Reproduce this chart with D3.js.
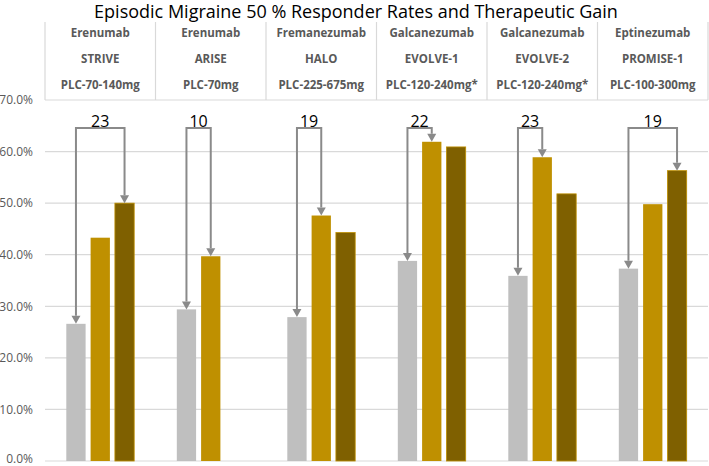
<!DOCTYPE html>
<html>
<head>
<meta charset="utf-8">
<script src="https://cdn.jsdelivr.net/npm/d3@7"></script>
<style>
  body { margin: 0; background: #fff; }
  text { font-family: "Open Sans", "Liberation Sans", sans-serif; }
</style>
</head>
<body>
<div id="chart"></div>
<script>
// data
var drugs = ["Erenumab", "Erenumab", "Fremanezumab", "Galcanezumab", "Galcanezumab", "Eptinezumab"];
var trials = ["STRIVE", "ARISE", "HALO", "EVOLVE-1", "EVOLVE-2", "PROMISE-1"];
var doses = ["PLC-70-140mg", "PLC-70mg", "PLC-225-675mg", "PLC-120-240mg*", "PLC-120-240mg*", "PLC-100-300mg"];
var placebo = [26.6, 29.4, 27.9, 38.8, 35.9, 37.3];
var lowDose = [43.3, 39.7, 47.6, 61.9, 58.9, 49.8];
var highDose = [50.0, null, 44.3, 60.9, 51.8, 56.3];
var gainLabels = ["23", "10", "19", "22", "23", "19"];
var gainTarget = [2, 1, 1, 1, 1, 2]; // which bar the arrow points to
var yTicks = [0, 10, 20, 30, 40, 50, 60, 70];

var seriesKeys = ["placebo", "low", "high"];
var colors = { placebo: "#bfbfbf", low: "#bf9000", high: "#7f6000" };

var data = trials.map(function (t, i) {
  return { i: i, values: [placebo[i], lowDose[i], highDose[i]] };
});

var width = 709, height = 466;
var margin = { left: 45, right: 708, top: 100, bottom: 461 };

var svg = d3.select("#chart").append("svg")
  .attr("width", width)
  .attr("height", height);

var x0 = d3.scaleBand().domain(d3.range(trials.length)).range([margin.left, margin.right]).padding(0);
var x1 = d3.scaleBand().domain([0, 1, 2]).range([0, x0.bandwidth()])
  .paddingInner(0.206).paddingOuter(0.877);
var y = d3.scaleLinear().domain([0, 70]).range([margin.bottom, margin.top]);

// title
svg.append("text")
  .attr("x", 356).attr("y", 18)
  .attr("text-anchor", "middle")
  .attr("font-size", 18)
  .attr("fill", "#000")
  .text("Episodic Migraine 50 % Responder Rates and Therapeutic Gain");

// gridlines
svg.append("g").selectAll("line").data(yTicks).enter().append("line")
  .attr("x1", margin.left).attr("x2", margin.right)
  .attr("y1", function (d) { return y(d); })
  .attr("y2", function (d) { return y(d); })
  .attr("stroke", "#d9d9d9").attr("stroke-width", 1.2);

// y axis labels
var yAxis = d3.axisLeft(y).tickValues(yTicks).tickSize(0).tickPadding(12)
  .tickFormat(function (d) { return d.toFixed(1) + "%"; });
var gy = svg.append("g").attr("transform", "translate(" + margin.left + ",0)").call(yAxis);
gy.select(".domain").remove();
gy.selectAll("text")
  .attr("font-family", "'Open Sans', 'Liberation Sans', sans-serif")
  .attr("font-size", 12).attr("fill", "#595959")
  .attr("dy", function (d) { return d == 0 ? "0.1em" : "0.32em"; }); // keep 0.0% inside the frame

// header table
var header = svg.append("g");
header.selectAll("line.v").data(d3.range(trials.length + 1)).enter().append("line")
  .attr("x1", function (d) { return d < trials.length ? x0(d) : margin.right; })
  .attr("x2", function (d) { return d < trials.length ? x0(d) : margin.right; })
  .attr("y1", 22).attr("y2", margin.top)
  .attr("stroke", "#d9d9d9").attr("stroke-width", 1.2);

var rows = [drugs, trials, doses];
var rowY = [33, 59, 85];
rows.forEach(function (r, ri) {
  header.selectAll("text.r" + ri).data(r).enter().append("text")
    .attr("x", function (d, i) { return x0(i) + x0.bandwidth() / 2; })
    .attr("y", rowY[ri])
    .attr("dy", "0.35em")
    .attr("text-anchor", "middle")
    .attr("font-size", 11.5)
    .attr("font-weight", "bold")
    .attr("fill", "#595959")
    .text(function (d) { return d; });
});

// bars
var groups = svg.append("g").selectAll("g").data(data).enter().append("g")
  .attr("transform", function (d) { return "translate(" + x0(d.i) + ",0)"; });

groups.selectAll("rect")
  .data(function (d) {
    return d.values.map(function (v, k) { return { k: k, v: v }; })
      .filter(function (e) { return e.v != null; });
  })
  .enter().append("rect")
  .attr("x", function (d) { return x1(d.k); })
  .attr("y", function (d) { return y(d.v); })
  .attr("width", x1.bandwidth())
  .attr("height", function (d) { return y(0) - y(d.v); })
  .attr("fill", function (d) { return colors[seriesKeys[d.k]]; })
  .attr("stroke", function (d) { return d.k == 2 ? "#bf9000" : "none"; })
  .attr("stroke-width", 0.8);

// gain brackets
var bracketY = 128, arrowH = 8, arrowW = 9;
var ann = svg.append("g");
data.forEach(function (d) {
  var xa = x0(d.i) + x1(0) + x1.bandwidth() / 2;
  var xb = x0(d.i) + x1(gainTarget[d.i]) + x1.bandwidth() / 2;
  var ya = y(d.values[0]), yb = y(d.values[gainTarget[d.i]]);

  ann.append("path")
    .attr("d", "M" + xa + "," + (ya - arrowH) + "V" + bracketY + "H" + xb + "V" + (yb - arrowH))
    .attr("fill", "none").attr("stroke", "#8a8a8a").attr("stroke-width", 2);

  [[xa, ya], [xb, yb]].forEach(function (p) {
    ann.append("path")
      .attr("d", "M" + p[0] + "," + p[1] + "L" + (p[0] - arrowW / 2) + "," + (p[1] - arrowH) +
        "L" + (p[0] + arrowW / 2) + "," + (p[1] - arrowH) + "Z")
      .attr("fill", "#8a8a8a");
  });

  ann.append("text")
    .attr("x", (xa + xb) / 2).attr("y", bracketY - 1)
    .attr("text-anchor", "middle")
    .attr("font-size", 16)
    .attr("fill", "#000")
    .text(gainLabels[d.i]);
});
</script>
</body>
</html>
